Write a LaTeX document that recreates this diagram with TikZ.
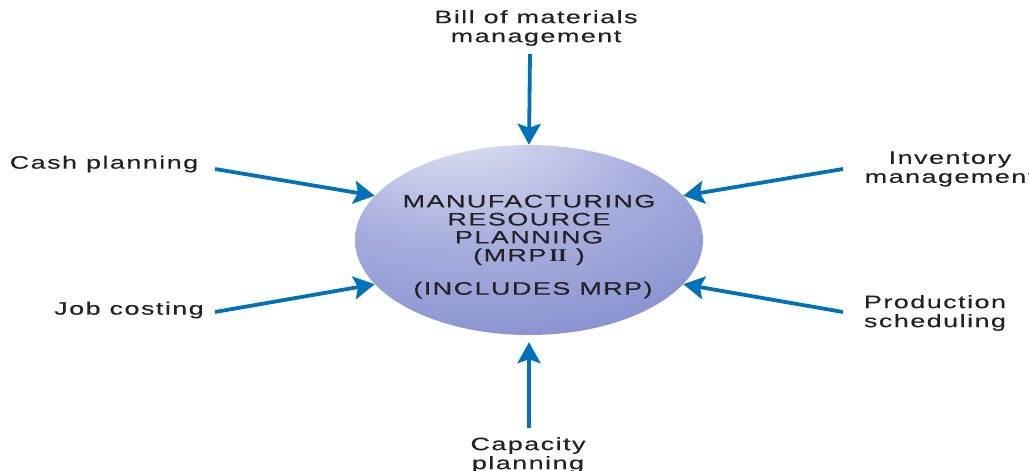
\documentclass[tikz,border=0pt]{standalone}
\usepackage{fontspec}
\setmainfont{Liberation Sans}[FakeStretch=1.5, LetterSpace=8, FakeBold=0.3]
\newfontfamily\romnum{Liberation Serif}[FakeStretch=1.25]
\usetikzlibrary{arrows.meta,shapes.geometric}
\definecolor{arrblue}{RGB}{0,114,188}
\definecolor{txtgray}{RGB}{34,34,34}
\definecolor{sh0}{RGB}{238,239,250}
\definecolor{sh1}{RGB}{212,215,239}
\definecolor{sh2}{RGB}{168,174,222}
\definecolor{sh3}{RGB}{146,155,212}
\definecolor{sh4}{RGB}{118,130,198}
\definecolor{sh5}{RGB}{110,122,192}
\pgfdeclareradialshading{mrpshade}{\pgfpoint{-12bp}{34bp}}{%
  color(0bp)=(sh0); color(8bp)=(sh1); color(26bp)=(sh2); color(40bp)=(sh3); color(56bp)=(sh4); color(100bp)=(sh5)}
\tikzset{
  lbl/.style={text=txtgray, font=\fontsize{18}{19}\selectfont, align=center, inner sep=0pt},
  inlbl/.style={text=txtgray, font=\fontsize{18}{18}\selectfont, align=center, inner sep=0pt},
  arr/.style={draw=arrblue, line width=3.8pt, -{Stealth[length=21pt, width=23pt, inset=4pt]}},
  mrp/.style={ellipse, minimum width=348pt, minimum height=190pt, inner sep=0pt, shading=mrpshade}
}
\begin{document}
\begin{tikzpicture}[x=1pt,y=1pt]
\useasboundingbox (0,0) rectangle (1029,-471);
\node[mrp] (ell) at (529,-240) {};
\node[inlbl] (t1) at (529,-230) {MANUFACTURING\\RESOURCE\\PLANNING\\(MRP\,{\romnum\bfseries II}\ )};
\node[inlbl] (t2) at (533,-290) {(INCLUDES MRP)};

\node[lbl] (bom) at (536,-28) {Bill of materials\\management};
\node[lbl] (cash) at (104,-164) {Cash planning};
\node[lbl] (job) at (129,-310) {Job costing};
\node[lbl] (inv) at (950,-169) {Inventory\\management};
\node[lbl] (prod) at (935,-313) {Production\\scheduling};
\node[lbl] (cap) at (528,-455) {Capacity\\planning};

\coordinate (bomS) at (530,-54);
\coordinate (cashS) at (215,-169);
\coordinate (jobS) at (215,-312);
\coordinate (invS) at (843,-169);
\coordinate (prodS) at (843,-312);
\coordinate (capS) at (529,-428);

\draw[arr] (bomS) -- (ell.90);
\draw[arr] (cashS) -- (ell.164);
\draw[arr] (jobS) -- (ell.196);
\draw[arr] (invS) -- (ell.16);
\draw[arr] (prodS) -- (ell.344);
\draw[arr, shorten >=7pt] (capS) -- (ell.270);
\end{tikzpicture}
\end{document}
